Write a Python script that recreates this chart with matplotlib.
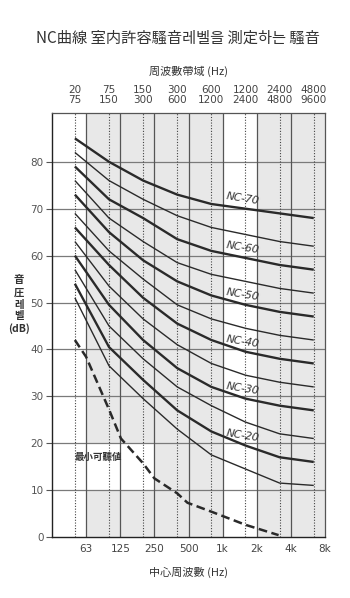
import numpy as np
import matplotlib
matplotlib.use('Agg')
import matplotlib.pyplot as plt

plt.rcParams['font.family'] = ['Noto Sans CJK KR', 'DejaVu Sans']
plt.rcParams['axes.unicode_minus'] = False

# 옥타브 대역 (상단) / 중심주파수 (하단)
band_lo = ['20', '75', '150', '300', '600', '1200', '2400', '4800']
band_hi = ['75', '150', '300', '600', '1200', '2400', '4800', '9600']
center_labels = ['63', '125', '250', '500', '1k', '2k', '4k', '8k']

# NC 곡선 값 (dB), 각 대역별
nc_names = [70, 65, 60, 55, 50, 45, 40, 35, 30, 25, 20, 15]
nc_values = [
    [85, 80, 76, 73, 71, 70, 69, 68],
    [82, 76, 72, 68.5, 66, 64.5, 63, 62],
    [79, 72, 68, 63.5, 61, 59.5, 58, 57],
    [76, 68, 63, 58.5, 56, 54.5, 53, 52],
    [73, 65, 59, 54.5, 51.5, 49.5, 48, 47],
    [69, 61, 55, 49.5, 46.5, 44.5, 43, 42],
    [66, 58, 51, 45.5, 42, 39.5, 38, 37],
    [63, 53.5, 46.5, 41, 37, 34.5, 33, 32],
    [60, 49.5, 42, 36, 32, 29.5, 28, 27],
    [57, 45, 38, 32, 28, 24.5, 22, 21],
    [54, 40.5, 33.5, 27, 22.5, 19.5, 17, 16],
    [51, 36.5, 29.5, 23, 17.5, 14.5, 11.5, 11],
]
labelled = [70, 60, 50, 40, 30, 20]

# 최소가청치 (대역 단위 x 위치, dB)
thr_x = [0.67, 1.0, 1.67, 2.02, 2.67, 3.0, 3.67, 3.97, 4.67, 5.67, 6.64]
thr_db = [42, 38.4, 27.2, 21, 15.7, 12.5, 9.3, 7.3, 5.4, 2.6, 0.4]

shaded = [1, 2, 3, 4, 6, 7]

offset = 0.67
n = len(band_lo)
xpos = np.arange(n) + offset

fig = plt.figure(figsize=(3.5, 5.98), dpi=100)
ax = fig.add_axes([0.1486, 0.102, 0.78, 0.709])

# 배경 음영
for i in shaded:
    ax.axvspan(i, i + 1, color='#e8e8e8', lw=0, zorder=0)
ax.fill_between([1, 3], 10, 20, color='white', lw=0, zorder=0.5)

# 격자
for y in range(10, 90, 10):
    ax.axhline(y, color='#7a7a7a', lw=0.9, zorder=1)
for i in range(1, n):
    ax.axvline(i, color='#555555', lw=0.9, zorder=1)
for x in xpos:
    ax.axvline(x, color='#444444', lw=0.8, ls=(0, (1, 1.5)), zorder=1)

# NC 곡선
for name, vals in zip(nc_names, nc_values):
    lw = 1.7 if name in labelled else 1.0
    ax.plot(xpos, vals, color='#2a2a2a', lw=lw, solid_capstyle='butt', zorder=3)
    if name in labelled:
        lx = 5.6
        ly = np.interp(lx, xpos, vals) + 2.0
        ax.text(lx, ly, f'NC-{name}', rotation=-9, ha='center', va='center',
                fontsize=7.8, style='italic', color='#333333',
                family=['DejaVu Sans'], zorder=4)

# 최소가청치
ax.plot(thr_x, thr_db, color='#2a2a2a', lw=1.8, ls=(0, (3.5, 1.8)), zorder=3)
ax.text(1.35, 17.1, '最小可聽値', fontsize=6.8, fontweight='bold',
        color='#333333', ha='center', va='center', zorder=4)

ax.set_xlim(0, n)
ax.set_ylim(0, 90.4)

ax.set_xticks(np.arange(1, n + 1))
ax.set_xticklabels(center_labels, fontsize=7.5, color='#444444',
                   family=['DejaVu Sans'])
ax.tick_params(axis='x', length=0, pad=5)
ax.set_yticks(range(0, 90, 10))
ax.set_yticklabels([str(v) for v in range(0, 90, 10)], fontsize=7.5,
                   color='#555555', family=['DejaVu Sans'])
ax.tick_params(axis='y', length=4, color='#555555', pad=2)

for s in ['top', 'right']:
    ax.spines[s].set_color('#555555')
    ax.spines[s].set_linewidth(0.9)
for s in ['left', 'bottom']:
    ax.spines[s].set_color('#222222')
    ax.spines[s].set_linewidth(1.0)

top = ax.secondary_xaxis('top')
top.set_xticks(xpos)
top.set_xticklabels([f'{a}\n{b}' for a, b in zip(band_lo, band_hi)],
                    fontsize=7.5, color='#444444', family=['DejaVu Sans'],
                    linespacing=1.0)
top.tick_params(length=0, pad=6)
top.spines['top'].set_visible(False)

ax.set_xlabel('中心周波數 (Hz)', fontsize=8, color='#333333', labelpad=9)
top.set_xlabel('周波數帶域 (Hz)', fontsize=8, color='#333333', labelpad=7)

fig.text(0.054, 0.49, '音\n圧\n레\n벨\n(dB)', ha='center', va='center',
         fontsize=7.5, fontweight='bold', color='#333333', linespacing=1.25)

fig.text(0.508, 0.936, 'NC曲線 室内許容騷音레벨을 測定하는 騷音',
         ha='center', va='center', fontsize=11, color='#333333')

fig.savefig('out.png', dpi=100)
